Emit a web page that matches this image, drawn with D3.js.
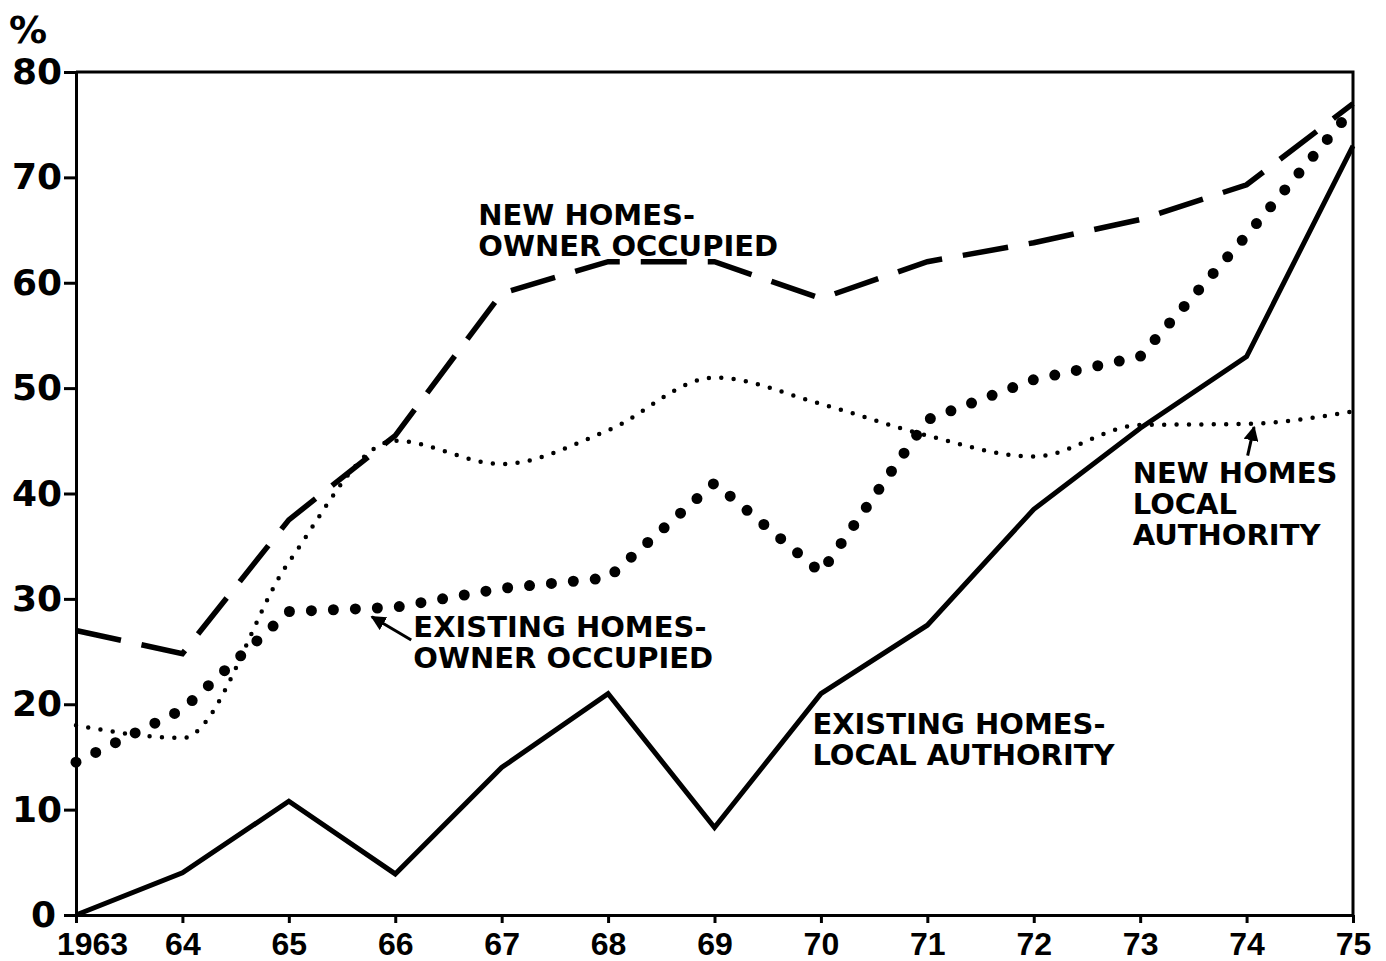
<!DOCTYPE html>
<html lang="en">
<head>
<meta charset="utf-8">
<title>Mortgages by type of home, 1963-75</title>
<script src="https://cdn.jsdelivr.net/npm/d3@7"></script>
<style>
	body { margin: 0; background: #fff; }
	svg text { font-family: "DejaVu Sans", sans-serif; font-weight: bold; fill: #000; }
	.x_axis text { font-family: "Liberation Sans", Arial, sans-serif; font-size: 32px; }
	.y_axis text { font-size: 36px; }
	.x_axis path, .x_axis line,
	.y_axis path, .y_axis line { stroke: #000; stroke-width: 3; }
	.note { font-size: 29px; }
</style>
</head>
<body>
<script>

// years along the bottom and their labels
var years = [1963, 1964, 1965, 1966, 1967, 1968, 1969, 1970, 1971, 1972, 1973, 1974, 1975];
var yearLabels = ["1963", "64", "65", "66", "67", "68", "69", "70", "71", "72", "73", "74", "75"];
var yTicks = [0, 10, 20, 30, 40, 50, 60, 70, 80];

// percentages
var newOwner      = [27, 24.8, 37.5, 45.5, 59, 62, 62, 58.5, 62, 63.8, 66, 69.3, 77];
var existingOwner = [14.5, 19.5, 28.8, 29.2, 31, 32, 41, 32.5, 47, 50.8, 53, 64.5, 76.5];
var newLocal      = [18, 16.8, 33.5, 45, 42.8, 46, 51, 48.5, 45.5, 43.5, 46.5, 46.6, 47.8];
var existingLocal = [0, 4, 10.8, 3.9, 14, 21, 8.3, 21, 27.5, 38.5, 46.2, 53, 73];

var w = 1386;
var h = 961;

var svg = d3.select("body").append("svg")
	.attr("width", w)
	.attr("height", h);

var xScale = d3.scaleLinear()
	.domain([1963, 1975])
	.range([76, 1353]);

var yScale = d3.scaleLinear()
	.domain([0, 80])
	.range([915, 72]);

// frame (top + right sides)
svg.append("path")
	.attr("d", "M" + xScale(1963) + "," + yScale(80) + "H" + xScale(1975) + "V" + yScale(0))
	.attr("fill", "none")
	.attr("stroke", "#000")
	.attr("stroke-width", 3);

var xAxis = d3.axisBottom(xScale)
	.tickValues(years)
	.tickFormat(function(d, i) { return yearLabels[i]; })
	.tickSize(8)
	.tickSizeOuter(0)
	.tickPadding(9);

var yAxis = d3.axisLeft(yScale)
	.tickValues(yTicks)
	.tickSize(12)
	.tickSizeOuter(0)
	.tickPadding(2);

svg.append("g")
	.attr("class", "x_axis")
	.attr("transform", "translate(0," + yScale(0) + ")")
	.call(xAxis);

// 1963 is pushed right so it clears the 0
svg.select(".x_axis").selectAll(".tick text")
	.attr("dx", function(d, i) { return i === 0 ? 16 : 0; });

svg.append("g")
	.attr("class", "y_axis")
	.attr("transform", "translate(" + xScale(1963) + ",0)")
	.call(yAxis);

svg.select(".y_axis").selectAll(".tick text")
	.attr("dx", function(d) { return d === 0 ? -6 : 0; });

svg.selectAll(".x_axis text, .y_axis text").attr("fill", "#000");

svg.append("text")
	.attr("x", 9)
	.attr("y", 43)
	.attr("font-size", "38px")
	.text("%");

// lines
var straight = d3.line()
	.x(function(d, i) { return xScale(years[i]); })
	.y(function(d) { return yScale(d); });

var smooth = d3.line()
	.x(function(d, i) { return xScale(years[i]); })
	.y(function(d) { return yScale(d); })
	.curve(d3.curveMonotoneX);

svg.append("path")
	.datum(newOwner)
	.attr("d", straight)
	.attr("fill", "none")
	.attr("stroke", "#000")
	.attr("stroke-width", 5.5)
	.attr("stroke-dasharray", "46 21");

svg.append("path")
	.datum(existingLocal)
	.attr("d", straight)
	.attr("fill", "none")
	.attr("stroke", "#000")
	.attr("stroke-width", 5)
	.attr("stroke-linejoin", "miter");

svg.append("path")
	.datum(newLocal)
	.attr("d", smooth)
	.attr("fill", "none")
	.attr("stroke", "#000")
	.attr("stroke-width", 4.5)
	.attr("stroke-linecap", "round")
	.attr("stroke-dasharray", "0 12.4");

svg.append("path")
	.datum(existingOwner)
	.attr("d", straight)
	.attr("fill", "none")
	.attr("stroke", "#000")
	.attr("stroke-width", 11)
	.attr("stroke-linecap", "round")
	.attr("stroke-dasharray", "0 22");

// arrows
svg.append("defs").append("marker")
	.attr("id", "head")
	.attr("viewBox", "0 0 10 10")
	.attr("refX", 9)
	.attr("refY", 5)
	.attr("markerWidth", 5)
	.attr("markerHeight", 5)
	.attr("markerUnits", "strokeWidth")
	.attr("orient", "auto")
	.append("path")
	.attr("d", "M0,0L10,5L0,10z")
	.attr("fill", "#000");

var arrows = [
	[1966.15, 26.1, 1965.78, 28.3],
	[1974.01, 43.6, 1974.07, 46.3]
];

svg.selectAll(".arrow")
	.data(arrows)
	.enter()
	.append("line")
	.attr("class", "arrow")
	.attr("x1", function(d) { return xScale(d[0]); })
	.attr("y1", function(d) { return yScale(d[1]); })
	.attr("x2", function(d) { return xScale(d[2]); })
	.attr("y2", function(d) { return yScale(d[3]); })
	.attr("stroke", "#000")
	.attr("stroke-width", 3)
	.attr("marker-end", "url(#head)");

// labels: [year, value, lines]
var notes = [
	[1966.78, 65.5, ["NEW HOMES-", "OWNER OCCUPIED"]],
	[1966.17, 26.4, ["EXISTING HOMES-", "OWNER OCCUPIED"]],
	[1972.93, 41.0, ["NEW HOMES", "LOCAL", "AUTHORITY"]],
	[1969.92, 17.2, ["EXISTING HOMES-", "LOCAL AUTHORITY"]]
];

var noteText = svg.selectAll(".note")
	.data(notes)
	.enter()
	.append("text")
	.attr("class", "note")
	.attr("x", function(d) { return xScale(d[0]); })
	.attr("y", function(d) { return yScale(d[1]); });

noteText.selectAll("tspan")
	.data(function(d) { return d[2].map(function(s) { return { s: s, x: xScale(d[0]) }; }); })
	.enter()
	.append("tspan")
	.attr("x", function(d) { return d.x; })
	.attr("dy", function(d, i) { return i === 0 ? 0 : 31; })
	.text(function(d) { return d.s; });

</script>
</body>
</html>
